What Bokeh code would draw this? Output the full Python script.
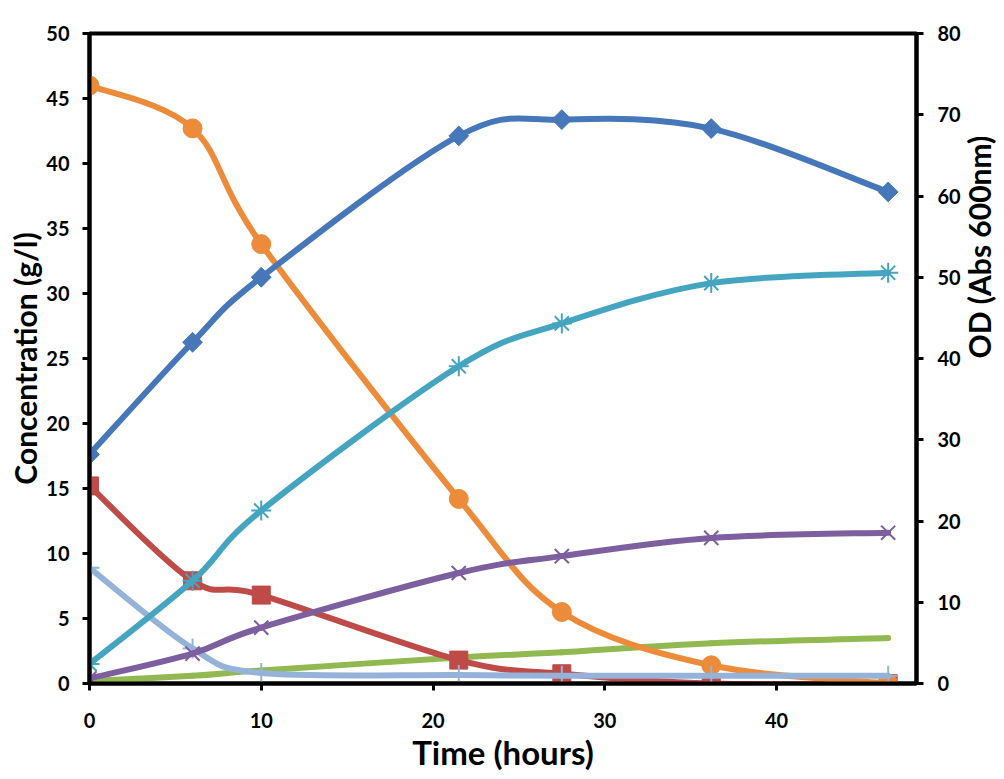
import math
from bokeh.plotting import figure
from bokeh.models import Range1d, LinearAxis, FixedTicker
from bokeh.embed import file_html
from bokeh.resources import INLINE

time_h = [0, 6, 10, 21.5, 27.5, 36.2, 46.5]
od_600 = [28.2, 42.0, 50.0, 67.4, 69.4, 68.3, 60.5]          # right axis
glucose = [46.0, 42.7, 33.8, 14.2, 5.5, 1.4, 0.0]
red_sq = [15.2, 7.9, 6.8, 1.8, 0.75, 0.0, 0.0]
cyan_ast = [1.5, 7.9, 13.3, 24.4, 27.7, 30.8, 31.6]
purple_x = [0.4, 2.3, 4.3, 8.5, 9.8, 11.2, 11.6]
green_ln = [0.2, 0.6, 1.0, 2.0, 2.4, 3.1, 3.5]
lblue_pl = [8.9, 2.7, 0.8, 0.65, 0.6, 0.6, 0.6]

left_ticks = [0, 5, 10, 15, 20, 25, 30, 35, 40, 45, 50]
right_ticks = [0, 10, 20, 30, 40, 50, 60, 70, 80]
x_ticks = [0, 10, 20, 30, 40]

FONT = "Lato"

p = figure(frame_width=827, frame_height=650, x_range=Range1d(0, 48.15), y_range=Range1d(0, 50),
           output_backend="svg", toolbar_location=None,
           min_border_left=89, min_border_right=20, min_border_top=33, min_border_bottom=20)
p.extra_y_ranges = {"od": Range1d(0, 80)}
p.xgrid.visible = False
p.ygrid.visible = False
p.outline_line_color = "black"
p.outline_line_width = 4
p.background_fill_color = "white"
p.border_fill_color = "white"


def style_axis(ax, ticks):
    ax.ticker = FixedTicker(ticks=ticks)
    ax.axis_line_width = 4
    ax.axis_line_color = "black"
    ax.major_tick_line_width = 3
    ax.major_tick_line_color = "black"
    ax.major_tick_out = 7
    ax.major_tick_in = 0
    ax.minor_tick_line_color = None
    ax.major_label_text_font = FONT
    ax.major_label_text_font_style = "bold"
    ax.major_label_text_font_size = "20px"
    ax.major_label_text_color = "black"
    ax.axis_label_text_font = FONT
    ax.axis_label_text_font_style = "bold"
    ax.axis_label_text_font_size = "30px"
    ax.axis_label_text_color = "black"


style_axis(p.xaxis[0], x_ticks)
p.xaxis[0].axis_label = "Time (hours)"
p.xaxis[0].axis_label_text_font_size = "33px"
p.xaxis[0].major_label_standoff = 22
p.xaxis[0].axis_label_standoff = 1

style_axis(p.yaxis[0], left_ticks)
p.yaxis[0].axis_label = "Concentration (g/l)"
p.yaxis[0].major_label_standoff = 13
p.yaxis[0].axis_label_standoff = 0

rax = LinearAxis(y_range_name="od")
style_axis(rax, right_ticks)
rax.axis_label = "OD (Abs 600nm)"
rax.major_label_standoff = 14
rax.axis_label_standoff = 15
try:
    rax.axis_label_orientation = math.pi / 2
except Exception:
    pass
p.add_layout(rax, "right")


def bezier_parts(xs, ys):
    n = len(xs)
    out = dict(x0=[], y0=[], x1=[], y1=[], cx0=[], cy0=[], cx1=[], cy1=[])
    for i in range(n - 1):
        a = i - 1 if i > 0 else i
        d = i + 2 if i + 2 < n else i + 1
        out["x0"].append(xs[i]); out["y0"].append(ys[i])
        out["x1"].append(xs[i + 1]); out["y1"].append(ys[i + 1])
        out["cx0"].append(xs[i] + (xs[i + 1] - xs[a]) / 6.0)
        out["cy0"].append(ys[i] + (ys[i + 1] - ys[a]) / 6.0)
        out["cx1"].append(xs[i + 1] - (xs[d] - xs[i]) / 6.0)
        out["cy1"].append(ys[i + 1] - (ys[d] - ys[i]) / 6.0)
    return out


def series(ys, color, marker=None, size=16, mlw=1.0, angle=0.0, fill=True, rng="default"):
    b = bezier_parts(time_h, ys)
    kw = {} if rng == "default" else {"y_range_name": rng}
    p.bezier(line_color=color, line_width=6, line_cap="round", **b, **kw)
    if marker:
        p.scatter(time_h, ys, marker=marker, size=size, angle=angle,
                  line_color=color, line_width=mlw,
                  fill_color=color if fill else None, **kw)


series(green_ln, "#92B851")
series(red_sq, "#BE4B48", marker="square", size=18)
series(glucose, "#EC8B3A", marker="circle", size=19)
series(lblue_pl, "#95B3D9", marker="cross", size=20, mlw=2, fill=False)
series(purple_x, "#7D5FA0", marker="x", size=20, mlw=2, fill=False)
series(cyan_ast, "#45A5C0", marker="asterisk", size=20, mlw=2, fill=False)
series(od_600, "#4677B8", marker="square", size=14, angle=0.785398, rng="od")

open("out.html", "w").write(file_html(p, INLINE))
